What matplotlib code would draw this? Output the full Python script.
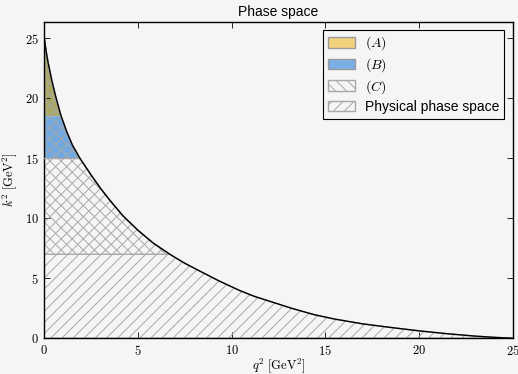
import matplotlib
matplotlib.use("Agg")
import matplotlib.pyplot as plt
import numpy as np
from matplotlib.patches import Patch

# boundary of the physical region
q2_edge = [0.0, 0.1, 0.2, 0.4, 0.6, 0.88, 1.2, 1.5, 1.9, 2.5, 3.0, 3.5, 4.2,
           5.0, 5.8, 6.7, 7.5, 8.3, 9.3, 10.4, 11.2, 12.0, 13.2, 14.4, 15.5,
           17.0, 18.5, 20.0, 21.5, 23.0, 24.0, 25.0]
k2_edge = [25.0, 23.9, 23.0, 21.5, 20.2, 18.6, 17.2, 16.1, 15.0, 13.6, 12.5,
           11.5, 10.2, 9.0, 7.95, 7.0, 6.25, 5.6, 4.8, 4.0, 3.5, 3.1, 2.5,
           1.97, 1.6, 1.2, 0.9, 0.62, 0.38, 0.18, 0.08, 0.0]

# horizontal cuts in k^2
cut_A = 18.5
cut_B = 15.0
cut_C = 7.0

xticks = [0, 5, 10, 15, 20, 25]
yticks = [0, 5, 10, 15, 20, 25]

BG = "#f5f5f5"
HATCH = "#a8a8a8"
plt.rcParams["mathtext.fontset"] = "cm"
plt.rcParams["hatch.linewidth"] = 0.7
plt.rcParams["font.family"] = ["Liberation Sans", "DejaVu Sans"]

q = np.array(q2_edge)
k = np.array(k2_edge)

fig = plt.figure(figsize=(5.18, 3.74), dpi=100, facecolor=BG)
ax = fig.add_axes([0.0855, 0.0955, 0.9043, 0.847], facecolor=BG)

# Coloured regions first, hatching on top
ax.fill_between(q, cut_A, k, where=k >= cut_A, interpolate=True,
                facecolor="#aaa864", edgecolor="none", zorder=1)
ax.fill_between(q, cut_B, np.minimum(k, cut_A), where=k >= cut_B, interpolate=True,
                facecolor="#70a9e2", edgecolor="none", zorder=1)
ax.fill_between(q, 0, k, facecolor="none", edgecolor=HATCH, hatch="///",
                linewidth=1.0, zorder=2)
ax.fill_between(q, cut_C, k, where=k >= cut_C, interpolate=True,
                facecolor="none", edgecolor=HATCH, hatch="\\\\\\",
                linewidth=1.0, zorder=2)
ax.plot([0, np.interp(cut_B, k[::-1], q[::-1])], [cut_B, cut_B],
        color=HATCH, lw=1.0, zorder=3)
ax.plot(q, k, color="black", lw=1.0, zorder=4)

ax.set_xlim(0, 25)
ax.set_ylim(0, 26.4)
ax.set_xticks(xticks)
ax.set_xticklabels([f"${t}$" for t in xticks])
ax.set_yticks(yticks)
ax.set_yticklabels([f"${t}$" for t in yticks])
ax.tick_params(direction="in", top=True, right=True, length=4, width=0.6,
               labelsize=9, pad=4)
for s in ax.spines.values():
    s.set_linewidth(1.0)

ax.set_xlabel(r"$q^2\ [\mathrm{GeV}^2]$", fontsize=9, labelpad=-1)
ax.set_ylabel(r"$k^2\ [\mathrm{GeV}^2]$", fontsize=9, labelpad=4)
ax.set_title("Phase space", fontsize=10, pad=4)

handles = [
    Patch(facecolor="#f2d37c", edgecolor="#9a9a9a", label=r"$(A)$"),
    Patch(facecolor="#7aaee6", edgecolor="#9a9a9a", label=r"$(B)$"),
    Patch(facecolor="none", edgecolor=HATCH, hatch="\\\\\\", label=r"$(C)$"),
    Patch(facecolor="none", edgecolor=HATCH, hatch="///", label="Physical phase space"),
]
leg = ax.legend(handles=handles, loc="upper right", fontsize=10, fancybox=False,
                framealpha=1, facecolor=BG, edgecolor="black",
                handlelength=2.0, handleheight=0.8, handletextpad=0.7,
                borderpad=0.35, labelspacing=0.28, borderaxespad=0.6)
leg.get_frame().set_linewidth(0.8)

fig.savefig("out.png", dpi=100, facecolor=BG)
